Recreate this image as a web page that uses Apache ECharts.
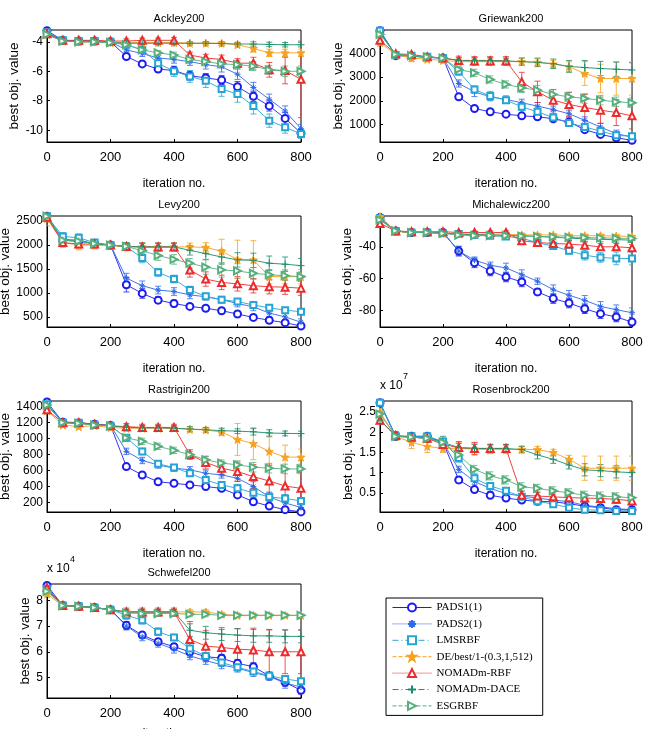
<!DOCTYPE html>
<html>
<head>
<meta charset="utf-8">
<script src="https://cdn.jsdelivr.net/npm/echarts@6/dist/echarts.min.js"></script>
<style>
  html, body { margin:0; padding:0; background:#fff; }
  #chart { width:645px; height:729px; }
</style>
</head>
<body>
<div id="chart"></div>
<script>
// iteration numbers (x)
const ITER = [0,50,100,150,200,250,300,350,400,450,500,550,600,650,700,750,800];
const METHODS = ['PADS1(1)','PADS2(1)','LMSRBF','DE/best/1-(0.3,1,512)','NOMADm-RBF','NOMADm-DACE','ESGRBF'];
const TITLES = ['Ackley200','Griewank200','Levy200','Michalewicz200','Rastrigin200','Rosenbrock200','Schwefel200'];
const X_TICKS = [0,200,400,600,800];

// mean best value, one row per method (order of METHODS)
const ACKLEY = [
  [-3.25,-3.9,-3.95,-3.95,-4.0,-5.0,-5.5,-5.85,-5.95,-6.3,-6.45,-6.6,-7.05,-7.7,-8.35,-9.2,-10.2],
  [-3.4,-3.9,-3.95,-3.95,-4.0,-4.55,-4.8,-5.1,-5.2,-5.35,-5.55,-5.7,-6.2,-7.1,-7.9,-8.7,-9.9],
  [-3.35,-3.9,-3.95,-3.95,-4.0,-4.2,-4.55,-5.45,-6.0,-6.35,-6.65,-7.2,-7.55,-8.35,-9.35,-9.8,-10.25],
  [-3.5,-3.95,-4.0,-4.0,-4.05,-4.05,-4.05,-4.05,-4.05,-4.1,-4.1,-4.1,-4.2,-4.45,-4.75,-4.75,-4.75],
  [-3.45,-3.9,-3.9,-3.9,-3.95,-3.95,-3.9,-3.9,-3.9,-4.9,-5.1,-5.2,-5.45,-5.45,-5.9,-5.95,-6.55],
  [-3.5,-3.95,-4.0,-4.0,-4.05,-4.1,-4.1,-4.1,-4.1,-4.1,-4.1,-4.12,-4.15,-4.15,-4.18,-4.2,-4.2],
  [-3.5,-3.95,-4.0,-4.0,-4.05,-4.2,-4.55,-4.75,-4.9,-5.2,-5.35,-5.5,-5.55,-5.65,-5.9,-6.0,-6.0]
];
const ACKLEY_ERR = [
  [0.1,0.05,0.05,0.05,0.05,0.15,0.15,0.2,0.25,0.3,0.3,0.3,0.35,0.35,0.35,0.4,0.3],
  [0.1,0.05,0.05,0.05,0.05,0.15,0.2,0.2,0.25,0.25,0.3,0.35,0.35,0.35,0.35,0.35,0.3],
  [0.1,0.05,0.05,0.05,0.05,0.1,0.2,0.3,0.35,0.4,0.45,0.5,0.55,0.55,0.45,0.4,0.3],
  [0.1,0.1,0.1,0.1,0.1,0.1,0.1,0.1,0.1,0.1,0.1,0.1,0.15,0.25,0.25,0.25,0.25],
  [0.1,0.1,0.1,0.1,0.1,0.15,0.15,0.15,0.2,0.2,0.25,0.3,0.3,0.4,0.5,0.9,2.6],
  [0.1,0.1,0.1,0.1,0.1,0.1,0.1,0.1,0.1,0.1,0.12,0.12,0.12,0.15,0.15,0.15,0.15],
  [0.1,0.05,0.05,0.05,0.05,0.1,0.15,0.15,0.2,0.2,0.2,0.2,0.25,0.3,0.3,0.35,0.35]
];

const GRIEWANK = [
  [4950,3900,3880,3830,3800,2170,1680,1540,1440,1370,1330,1250,1110,790,590,450,340],
  [4900,3920,3880,3830,3800,2730,2380,2170,2060,1920,1780,1630,1460,1180,900,620,480],
  [4950,3920,3900,3850,3800,3230,2480,2200,2030,1750,1540,1300,1070,900,730,550,510],
  [4450,3950,3800,3750,3700,3650,3650,3650,3650,3650,3620,3550,3440,3150,2940,2940,2940],
  [4550,3980,3950,3850,3800,3700,3680,3680,3680,2800,2380,2030,1850,1720,1610,1510,1370],
  [4850,3950,3900,3850,3800,3700,3700,3700,3680,3650,3620,3560,3450,3400,3360,3330,3300],
  [4800,3950,3900,3850,3800,3320,3180,2900,2690,2550,2450,2270,2170,2100,2030,1960,1920]
];
const GRIEWANK_ERR = [
  [80,50,50,50,50,120,80,70,60,60,60,60,70,80,80,80,60],
  [80,50,50,50,50,150,200,150,150,150,150,150,150,150,150,150,120],
  [80,50,50,50,50,150,150,200,120,150,150,150,150,150,150,150,120],
  [100,80,150,100,100,120,120,120,120,150,150,150,200,500,600,700,700],
  [100,80,80,80,80,180,180,180,180,400,450,450,500,550,550,550,550],
  [80,80,80,80,80,120,120,120,120,150,180,200,250,300,300,300,300],
  [80,60,60,60,60,120,150,150,150,200,200,200,200,200,200,200,200]
];

const LEVY = [
  [2600,2100,2080,2030,2000,1170,990,850,780,720,680,630,560,490,430,380,310],
  [2600,2120,2100,2030,2000,1310,1150,1060,1030,960,920,860,780,710,580,500,390],
  [2600,2180,2150,2050,2000,1960,1730,1430,1290,1060,930,860,820,750,690,640,610],
  [2550,2050,2000,2000,1980,1970,1960,1960,1960,1960,1950,1870,1700,1690,1340,1340,1340],
  [2580,2050,2020,2020,2000,1970,1960,1960,1960,1480,1290,1220,1190,1150,1130,1120,1100],
  [2600,2100,2080,2030,2000,1970,1960,1960,1960,1890,1820,1750,1690,1680,1620,1600,1570],
  [2600,2100,2080,2030,2000,1970,1880,1780,1700,1620,1540,1480,1460,1410,1380,1360,1340]
];
const LEVY_ERR = [
  [100,50,50,50,50,150,100,70,70,60,60,60,60,50,50,50,50],
  [100,50,50,50,50,100,100,80,80,80,70,70,70,80,80,80,70],
  [100,80,80,60,60,80,100,80,80,80,60,60,60,60,60,60,60],
  [150,100,100,80,60,80,80,80,80,80,100,250,400,400,150,150,150],
  [100,80,80,80,60,80,80,80,80,150,150,150,150,150,150,150,150],
  [100,80,80,60,60,80,80,80,80,100,120,150,150,150,150,150,150],
  [100,80,80,60,60,80,80,100,100,100,150,150,150,120,100,100,100]
];

const MICHALEWICZ = [
  [-21.5,-30,-31,-31,-31,-42.7,-50.1,-55.2,-59,-62.1,-68.4,-72.6,-75.4,-79,-82.1,-84.2,-87.4],
  [-22,-30,-31,-31,-31,-42.7,-48.4,-51.6,-53.3,-57.5,-61.7,-67,-70.5,-73.7,-77.5,-79.6,-81.5],
  [-22,-30,-31,-31,-31.5,-32,-32.6,-33,-33.5,-34.5,-37.5,-39.5,-42.5,-45.3,-46.7,-47.3,-47.4],
  [-21,-30.5,-31,-31,-31.5,-32,-32,-32,-32,-32.5,-32.5,-32.5,-33,-33,-33,-33.2,-33.5],
  [-25.3,-30,-30.5,-30.5,-30.5,-31,-31,-31,-31,-36.2,-37.3,-37.9,-38.3,-39,-40,-40,-40.6],
  [-23,-30,-31,-31,-31.5,-32,-32.3,-32.5,-32.8,-33,-33.5,-34,-34.5,-35,-35.3,-35.5,-35.8],
  [-23,-30,-31,-31,-31.5,-32.6,-33,-33,-33,-33.3,-33.5,-33.7,-34,-34.2,-34.4,-34.6,-34.7]
];
const MICHALEWICZ_ERR = [
  [2,1,1,1,1,3,3,3,3,3,2,3,3,3,3,3,3],
  [2,1,1,1,1,3,2,2,3,3,2,3,3,3,3,3,3],
  [2,1,1,1,1,1,1,1,1,1,2,2,2,3,3,4,4],
  [1,1,1,1,1,1,1,1,1,1,1,1,1,1,1,1,1],
  [2,1,1,1,1,1,1,1,1,1,1,1,2,2,2,2,2],
  [1,1,1,1,1,1,1,1,1,1.5,1.5,1.5,1.5,1.5,1.5,1.5,1.5],
  [1,1,1,1,1,1,1,1,1,1,1,1,1,1,1,1,1]
];

const RASTRIGIN = [
  [1460,1205,1195,1180,1165,650,545,460,440,420,400,377,295,210,155,110,82],
  [1430,1210,1200,1180,1165,840,726,670,630,610,566,545,503,400,270,195,137],
  [1430,1200,1200,1175,1160,1010,840,684,638,566,482,420,377,322,270,250,220],
  [1350,1170,1150,1160,1140,1130,1130,1130,1130,1115,1110,1080,990,937,840,768,768],
  [1360,1200,1200,1180,1160,1150,1140,1140,1140,800,700,630,587,524,469,406,377],
  [1420,1200,1190,1170,1160,1140,1135,1135,1130,1120,1110,1100,1093,1085,1071,1065,1063],
  [1420,1200,1190,1170,1160,1010,966,903,853,800,735,693,672,642,630,620,620]
];
const RASTRIGIN_ERR = [
  [30,20,20,20,20,25,25,25,25,25,25,25,25,25,20,20,15],
  [30,20,20,20,20,40,40,40,40,40,40,40,40,60,60,50,40],
  [30,20,20,20,20,40,40,40,30,40,40,40,50,60,50,50,40],
  [30,30,30,30,30,30,30,30,30,30,30,40,200,200,180,150,100],
  [30,30,30,30,30,40,40,40,40,60,80,80,120,150,200,200,200],
  [30,30,30,30,30,30,30,30,30,30,30,30,30,40,40,30,30],
  [30,20,20,20,20,40,40,40,40,40,40,40,50,60,60,60,60]
];

// x 10^7
const ROSENBROCK = [
  [2.73,1.9,1.9,1.9,1.75,0.82,0.58,0.44,0.37,0.32,0.29,0.28,0.23,0.17,0.13,0.08,0.08],
  [2.7,1.9,1.88,1.88,1.75,1.08,0.78,0.61,0.48,0.42,0.37,0.32,0.28,0.19,0.15,0.11,0.08],
  [2.73,1.9,1.9,1.9,1.77,1.36,0.86,0.67,0.55,0.4,0.29,0.22,0.13,0.08,0.07,0.05,0.05],
  [2.5,1.9,1.75,1.65,1.6,1.6,1.58,1.57,1.57,1.58,1.57,1.5,1.33,1.11,1.11,1.11,1.11],
  [2.3,1.92,1.88,1.85,1.7,1.62,1.6,1.6,1.6,0.44,0.42,0.4,0.38,0.37,0.36,0.34,0.3],
  [2.3,1.9,1.88,1.85,1.75,1.62,1.6,1.6,1.6,1.57,1.44,1.33,1.19,1.07,1.05,1.02,1.0],
  [2.45,1.9,1.88,1.85,1.75,1.44,1.08,0.92,0.82,0.65,0.61,0.55,0.5,0.44,0.42,0.4,0.38]
];
const ROSENBROCK_ERR = [
  [0.05,0.05,0.05,0.05,0.05,0.08,0.06,0.05,0.05,0.05,0.05,0.05,0.05,0.04,0.04,0.04,0.03],
  [0.05,0.05,0.05,0.05,0.05,0.08,0.08,0.08,0.08,0.06,0.06,0.06,0.06,0.05,0.05,0.05,0.04],
  [0.05,0.05,0.05,0.05,0.05,0.1,0.08,0.06,0.06,0.06,0.05,0.05,0.05,0.04,0.04,0.04,0.04],
  [0.1,0.1,0.15,0.15,0.1,0.15,0.15,0.1,0.1,0.08,0.08,0.08,0.1,0.3,0.3,0.3,0.3],
  [0.1,0.1,0.1,0.1,0.1,0.15,0.15,0.1,0.1,0.1,0.1,0.1,0.1,0.1,0.1,0.1,0.1],
  [0.1,0.08,0.08,0.08,0.15,0.1,0.1,0.1,0.1,0.08,0.1,0.1,0.1,0.15,0.15,0.15,0.1],
  [0.1,0.08,0.08,0.08,0.1,0.1,0.1,0.1,0.1,0.1,0.1,0.1,0.1,0.1,0.1,0.1,0.08]
];

// x 10^4
const SCHWEFEL = [
  [8.58,7.8,7.77,7.72,7.64,7.03,6.65,6.39,6.2,6.0,5.81,5.75,5.55,5.42,5.06,4.81,4.5],
  [8.45,7.8,7.77,7.72,7.64,7.0,6.58,6.33,6.1,5.84,5.66,5.49,5.36,5.19,5.04,4.78,4.63],
  [8.45,7.8,7.77,7.72,7.64,7.42,7.23,6.78,6.56,6.13,5.84,5.58,5.4,5.23,5.07,4.94,4.85],
  [8.26,7.78,7.75,7.7,7.62,7.55,7.55,7.55,7.55,7.55,7.55,7.46,7.42,7.42,7.42,7.42,7.42],
  [8.5,7.8,7.77,7.72,7.64,7.55,7.55,7.55,7.55,6.48,6.22,6.17,6.1,6.07,6.0,6.0,6.0],
  [8.4,7.8,7.77,7.72,7.64,7.55,7.55,7.55,7.55,6.84,6.74,6.69,6.65,6.62,6.62,6.6,6.6],
  [8.35,7.8,7.77,7.72,7.64,7.51,7.49,7.49,7.49,7.46,7.46,7.42,7.42,7.42,7.42,7.42,7.42]
];
const SCHWEFEL_ERR = [
  [0.1,0.08,0.08,0.08,0.08,0.15,0.12,0.12,0.12,0.15,0.15,0.15,0.15,0.15,0.15,0.15,0.15],
  [0.1,0.08,0.08,0.08,0.08,0.15,0.15,0.15,0.15,0.15,0.15,0.15,0.15,0.15,0.15,0.2,0.15],
  [0.1,0.08,0.08,0.08,0.08,0.15,0.15,0.15,0.12,0.12,0.12,0.15,0.15,0.12,0.12,0.12,0.12],
  [0.1,0.08,0.08,0.08,0.08,0.1,0.1,0.1,0.1,0.1,0.1,0.08,0.08,0.08,0.08,0.08,0.08],
  [0.15,0.1,0.1,0.1,0.1,0.15,0.15,0.15,0.15,0.7,0.6,0.7,0.8,0.85,0.85,0.85,0.85],
  [0.1,0.08,0.08,0.08,0.08,0.1,0.1,0.1,0.1,0.25,0.25,0.25,0.25,0.25,0.25,0.25,0.25],
  [0.1,0.08,0.08,0.08,0.08,0.1,0.1,0.1,0.1,0.1,0.1,0.08,0.08,0.08,0.08,0.08,0.08]
];

const DATA = [ACKLEY, GRIEWANK, LEVY, MICHALEWICZ, RASTRIGIN, ROSENBROCK, SCHWEFEL];
const ERRS = [ACKLEY_ERR, GRIEWANK_ERR, LEVY_ERR, MICHALEWICZ_ERR, RASTRIGIN_ERR, ROSENBROCK_ERR, SCHWEFEL_ERR];

// layout of the 7 panels: [left, top, width, height, ymin, ymax, splitNumber, yNameGap, xNameGap]
const PANELS = [
  [47, 30, 254, 112, -10.8, -3.2, 4, 25, 36],
  [380, 30, 252, 112, 270, 4980, 5, 32, 36],
  [47, 216, 254, 111, 290, 2605, 5, 30, 36],
  [380, 216, 252, 111, -90.5, -20.6, 4, 26, 36],
  [47, 401, 254, 111, 81, 1471, 7, 30, 36],
  [380, 401, 252, 111, 0.025, 2.775, 5, 22, 36],
  [47, 584, 254, 114, 4.2, 8.64, 4, 13, 30]
];

const COLORS = ['#1c1cf0','#2e68e8','#25a5d5','#f7a21e','#ec2b2b','#1b8d6b','#56b07e'];
const STAR = 'path://M5,0L6.18,3.38L9.76,3.46L6.9,5.62L7.94,9.05L5,7L2.06,9.05L3.1,5.62L0.24,3.46L3.82,3.38Z';
const SYMBOLS = [
  ['emptyCircle', 7, 0],
  ['path://M5,0L5,10M0,5L10,5M1.5,1.5L8.5,8.5M1.5,8.5L8.5,1.5', 6, 0],
  ['emptyRect', 6, 0],
  [STAR, 8, 0],
  ['emptyTriangle', 7, 0],
  ['path://M5,0L5,10M0,5L10,5', 7, 0],
  ['emptyTriangle', 7, -90]
];
const LEG_LINE = ['solid','dotted',[6,3,1,3],'dashed','dotted',[6,3,1,3],'dashed'];

const FONT = 'Liberation Sans, Arial, sans-serif';

function errRender(params, api) {
  const x = api.value(0), y = api.value(1), e = api.value(2);
  const lo = api.coord([x, y - e]), hi = api.coord([x, y + e]);
  const w = 3;
  const style = { stroke: api.visual('color'), lineWidth: 0.8, fill: null };
  return { type:'group', children:[
    { type:'line', shape:{ x1:lo[0], y1:lo[1], x2:hi[0], y2:hi[1] }, style },
    { type:'line', shape:{ x1:lo[0]-w, y1:lo[1], x2:lo[0]+w, y2:lo[1] }, style },
    { type:'line', shape:{ x1:hi[0]-w, y1:hi[1], x2:hi[0]+w, y2:hi[1] }, style }
  ]};
}

const tickFmt = v => String(+v.toFixed(6));

const grid = [], xAxis = [], yAxis = [], title = [], series = [];
PANELS.forEach((p, k) => {
  const [l, t, w, h, ymin, ymax, split, gap, xgap] = p;
  grid.push({ left:l, top:t, width:w, height:h, show:true, borderColor:'#000', borderWidth:1,
    backgroundColor:'#fff', containLabel:false, outerBoundsMode:'none' });
  title.push({ text: TITLES[k], left: l + w/2, top: t - 22, textAlign:'center',
    textStyle:{ fontFamily:FONT, fontSize:11, fontWeight:'normal', color:'#000' } });
  xAxis.push({ gridIndex:k, type:'value', min:X_TICKS[0], max:X_TICKS[X_TICKS.length-1], interval:200,
    name:'iteration no.', nameLocation:'middle', nameGap:xgap,
    nameTextStyle:{ fontFamily:FONT, fontSize:12, color:'#000' },
    axisLine:{ lineStyle:{ color:'#000' } },
    axisTick:{ inside:true, length:3, lineStyle:{ color:'#000' } },
    axisLabel:{ fontFamily:FONT, fontSize:13, color:'#000', margin:9 },
    splitLine:{ show:false } });
  yAxis.push({ gridIndex:k, type:'value', min:ymin, max:ymax, splitNumber:split, scale:true,
    name:'best obj. value', nameLocation:'middle', nameGap:gap,
    nameTextStyle:{ fontFamily:FONT, fontSize:13.5, color:'#000' },
    axisLine:{ lineStyle:{ color:'#000' } },
    axisTick:{ inside:true, length:3, lineStyle:{ color:'#000' } },
    axisLabel:{ fontFamily:FONT, fontSize:12, color:'#000', margin:4, showMinLabel:false, showMaxLabel:false, formatter:tickFmt },
    splitLine:{ show:false } });

  for (let m = 0; m < METHODS.length; m++) {
    const vals = DATA[k][m], errs = ERRS[k][m];
    series.push({
      type:'custom', name:'err' + k + '_' + m, xAxisIndex:k, yAxisIndex:k, silent:true, clip:true,
      renderItem: errRender, itemStyle:{ color: COLORS[m] },
      encode:{ x:0, y:1 },
      data: ITER.map((x, i) => [x, vals[i], errs[i]])
    });
    series.push({
      type:'line', name:METHODS[m], xAxisIndex:k, yAxisIndex:k, silent:true,
      symbol:SYMBOLS[m][0], symbolSize:SYMBOLS[m][1], symbolRotate:SYMBOLS[m][2], showAllSymbol:true,
      lineStyle:{ color:COLORS[m], width:0.9 },
      itemStyle:{ color:COLORS[m], borderColor:COLORS[m], borderWidth:1 },
      data: ITER.map((x, i) => [x, vals[i]])
    });
  }
});

const option = {
  animation:false,
  backgroundColor:'#fff',
  title, grid, xAxis, yAxis, series,
  legend:{
    orient:'vertical', left:386, top:598, selectedMode:false,
    itemWidth:39, itemHeight:10, itemGap:5.4,
    padding:[4, 10, 4, 6], borderColor:'#000', borderWidth:1, backgroundColor:'#fff',
    textStyle:{ fontFamily:'Liberation Serif, DejaVu Serif, serif', fontSize:11, color:'#000' },
    data: METHODS.map((n, m) => ({ name:n, lineStyle:{ type:LEG_LINE[m], width:1, color:COLORS[m] } }))
  },
  graphic:[
    { type:'text', left:380, top:380, style:{ text:'x 10', font:'12px Liberation Sans', fill:'#000' } },
    { type:'text', left:403, top:372, style:{ text:'7', font:'9px Liberation Sans', fill:'#000' } },
    { type:'text', left:47, top:563, style:{ text:'x 10', font:'12px Liberation Sans', fill:'#000' } },
    { type:'text', left:70, top:555, style:{ text:'4', font:'9px Liberation Sans', fill:'#000' } }
  ]
};

const chart = echarts.init(document.getElementById('chart'));
chart.setOption(option);
</script>
</body>
</html>
